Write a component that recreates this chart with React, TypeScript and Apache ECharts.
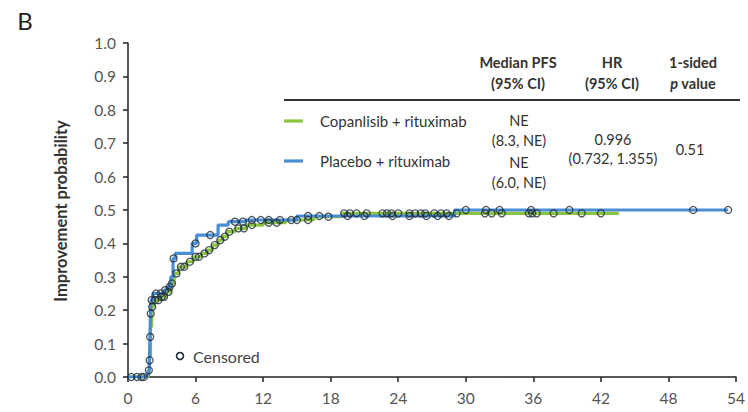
import React, { useEffect, useRef } from "react";
import * as echarts from "echarts";

// Kaplan-Meier steps (time in months, cumulative improvement probability)
const copTimes = [0, 1.8, 1.9, 2.0, 2.1, 2.3, 2.9, 3.4, 3.8, 4.1, 4.5, 5.2, 5.8, 6.5, 7.0, 7.5, 8.0, 8.4, 8.8, 9.5, 10.5, 12.0, 14.0, 16.5, 19.0, 43.6];
const copProb = [0, 0.01, 0.06, 0.15, 0.21, 0.23, 0.24, 0.255, 0.28, 0.31, 0.33, 0.345, 0.36, 0.37, 0.38, 0.395, 0.41, 0.42, 0.435, 0.445, 0.455, 0.462, 0.47, 0.48, 0.49, 0.49];
const plaTimes = [0, 1.6, 1.8, 1.9, 1.95, 2.0, 2.05, 2.2, 3.2, 3.5, 3.8, 4.0, 4.2, 5.7, 6.1, 8.0, 8.9, 10.5, 15.0, 29.0, 53.3];
const plaProb = [0, 0.005, 0.02, 0.05, 0.12, 0.19, 0.23, 0.25, 0.26, 0.27, 0.3, 0.355, 0.37, 0.4, 0.425, 0.455, 0.465, 0.47, 0.482, 0.5, 0.5];

// censoring times
const copCensor = [1.4, 2.15, 2.4, 2.7, 3.0, 3.2, 3.6, 3.9, 4.3, 4.7, 5.0, 5.5, 6.0, 6.3, 6.8, 7.2, 7.7, 8.2, 8.6, 9.0, 9.8, 10.3, 11.0, 12.5, 13.2, 15.0, 16.0, 17.8, 19.2, 19.7, 20.3, 21.2, 22.6, 23.0, 23.4, 24.0, 25.0, 25.5, 26.0, 26.4, 27.2, 27.8, 28.3, 29.2, 31.7, 32.3, 33.2, 35.6, 35.9, 36.3, 37.8, 40.3, 42.0];
const plaCensor = [0.3, 0.8, 1.2, 1.85, 1.92, 1.97, 2.02, 2.1, 2.5, 2.9, 3.3, 3.7, 4.05, 6.0, 7.3, 9.5, 10.2, 11.0, 11.8, 12.5, 13.5, 14.5, 16.0, 17.0, 19.5, 21.0, 23.5, 25.0, 26.5, 27.5, 28.5, 30.0, 31.8, 33.0, 35.8, 39.2, 50.2, 53.3];

const xTicks = [0, 6, 12, 18, 24, 30, 36, 42, 48, 54];
const seriesNames = ["Copanlisib + rituximab", "Placebo + rituximab"];
const medianPFS = ["NE", "NE"];
const medianCI = ["(8.3, NE)", "(6.0, NE)"];
const hrText = ["0.996", "(0.732, 1.355)"];
const pValue = "0.51";

const GREEN = "#8cc43f";
const BLUE = "#4a8ed6";
const FONT = "Lato, 'Open Sans', sans-serif";

function stepAt(times: number[], probs: number[], t: number) {
  let v = probs[0];
  for (let i = 0; i < times.length; i++) if (times[i] <= t) v = probs[i];
  return v;
}

export default function App() {
  const ref = useRef<HTMLDivElement>(null);
  useEffect(() => {
    if (!ref.current) return;
    const chart = echarts.init(ref.current, undefined, { renderer: "svg" });
    const censorStyle = {
      color: "rgba(255,255,255,0)",
      borderColor: "#1c2b3a",
      borderWidth: 1.3,
    };
    const txt = (x: number, y: number, text: string, extra: any = {}) => ({
      type: "text",
      x,
      y,
      silent: true,
      style: {
        text,
        fontFamily: FONT,
        fontSize: 14.5,
        fill: "#333",
        align: "center",
        verticalAlign: "middle",
        ...extra,
      },
    });
    chart.setOption({
      animation: false,
      grid: { left: 128, right: 8, top: 43, bottom: 35 },
      xAxis: {
        type: "value",
        min: xTicks[0],
        max: xTicks[xTicks.length - 1],
        interval: 6,
        axisLine: { show: true, lineStyle: { color: "#222", width: 1.5 } },
        axisTick: { show: true, length: 5, lineStyle: { color: "#222", width: 1.5 } },
        splitLine: { show: false },
        axisLabel: { fontFamily: FONT, fontSize: 15.5, color: "#555", margin: 13 },
      },
      yAxis: {
        type: "value",
        min: 0,
        max: 1,
        interval: 0.1,
        axisLine: { show: true, lineStyle: { color: "#222", width: 1.5 } },
        axisTick: { show: true, length: 5, lineStyle: { color: "#222", width: 1.5 } },
        splitLine: { show: false },
        axisLabel: {
          fontFamily: FONT,
          fontSize: 15.5,
          color: "#555",
          margin: 12,
          formatter: (v: number) => v.toFixed(1),
        },
      },
      series: [
        {
          name: seriesNames[0],
          type: "line",
          step: "end",
          showSymbol: false,
          silent: true,
          z: 2,
          lineStyle: { color: GREEN, width: 3.2 },
          data: copTimes.map((t, i) => [t, copProb[i]]),
        },
        {
          name: seriesNames[1],
          type: "line",
          step: "end",
          showSymbol: false,
          silent: true,
          z: 3,
          lineStyle: { color: BLUE, width: 3.2 },
          data: plaTimes.map((t, i) => [t, plaProb[i]]),
        },
        {
          type: "scatter",
          symbol: "circle",
          symbolSize: 7,
          silent: true,
          z: 4,
          itemStyle: censorStyle,
          data: copCensor.map((t) => [t, stepAt(copTimes, copProb, t)]),
        },
        {
          type: "scatter",
          symbol: "circle",
          symbolSize: 7,
          silent: true,
          z: 4,
          itemStyle: censorStyle,
          data: plaCensor.map((t) => [t, stepAt(plaTimes, plaProb, t)]),
        },
      ],
      graphic: [
        txt(25, 20, "B", { fontSize: 24, fill: "#222" }),
        {
          type: "text",
          x: 61,
          y: 211,
          rotation: Math.PI / 2,
          silent: true,
          style: {
            text: "Improvement probability",
            fontFamily: FONT,
            fontSize: 16.5,
            fontWeight: "bold",
            fill: "#333",
            align: "center",
            verticalAlign: "middle",
          },
        },
        txt(518, 62, "Median PFS", { fontWeight: "bold" }),
        txt(518, 83, "(95% CI)", { fontWeight: "bold" }),
        txt(612, 62, "HR", { fontWeight: "bold" }),
        txt(612, 83, "(95% CI)", { fontWeight: "bold" }),
        txt(693, 62, "1-sided", { fontWeight: "bold" }),
        {
          type: "text",
          x: 693,
          y: 83,
          silent: true,
          style: {
            text: "{i|p}{b| value}",
            align: "center",
            verticalAlign: "middle",
            rich: {
              i: { fontFamily: FONT, fontSize: 14.5, fontWeight: "bold", fontStyle: "italic", fill: "#333" },
              b: { fontFamily: FONT, fontSize: 14.5, fontWeight: "bold", fill: "#333" },
            },
          },
        },
        {
          type: "line",
          silent: true,
          shape: { x1: 284, y1: 100, x2: 740, y2: 100 },
          style: { stroke: "#333", lineWidth: 1.8 },
        },
        {
          type: "line",
          silent: true,
          shape: { x1: 284, y1: 121, x2: 303, y2: 121 },
          style: { stroke: GREEN, lineWidth: 3.2 },
        },
        txt(320, 121, seriesNames[0], { align: "left", fontSize: 15 }),
        {
          type: "line",
          silent: true,
          shape: { x1: 284, y1: 161, x2: 303, y2: 161 },
          style: { stroke: BLUE, lineWidth: 3.2 },
        },
        txt(320, 161, seriesNames[1], { align: "left", fontSize: 15 }),
        txt(519, 120, medianPFS[0]),
        txt(519, 140, medianCI[0]),
        txt(519, 162, medianPFS[1]),
        txt(519, 182, medianCI[1]),
        txt(613, 139, hrText[0]),
        txt(613, 158, hrText[1]),
        txt(690, 149, pValue),
        {
          type: "circle",
          silent: true,
          shape: { cx: 180, cy: 356, r: 3.5 },
          style: { fill: "rgba(255,255,255,0)", stroke: "#1c2b3a", lineWidth: 1.6 },
        },
        txt(193, 356, "Censored", { align: "left", fontSize: 16, fill: "#444" }),
      ],
    });
    return () => chart.dispose();
  }, []);
  return (
    <div
      ref={ref}
      style={{ position: "fixed", left: 0, top: 0, width: 748, height: 412, background: "#fff" }}
    />
  );
}
